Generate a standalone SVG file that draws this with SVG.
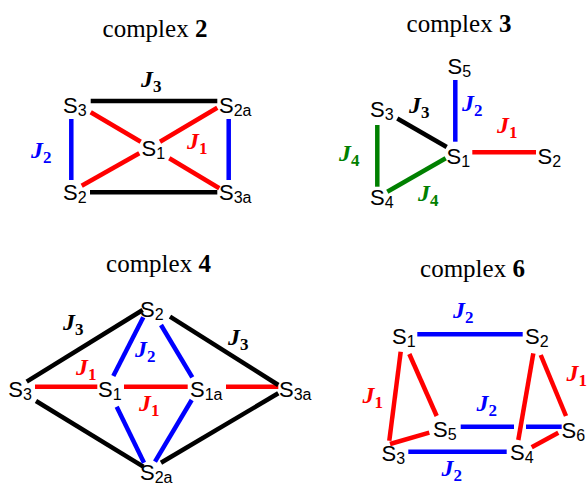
<svg xmlns="http://www.w3.org/2000/svg" width="588" height="485" viewBox="0 0 588 485">
<style>
.bg{fill:#fff}
.t{font-family:"Liberation Serif",serif;font-size:25px;fill:#000}
.t .b{font-weight:bold}
.s{font-family:"Liberation Sans",Arial,sans-serif;font-size:22px;fill:#000}
.s .sub{font-size:16px}
.j{font-family:"Liberation Serif",serif;font-size:24px;font-weight:bold;font-style:italic}
.j .sub{font-size:17px;font-style:normal}
.red{fill:#ff0000}.blue{fill:#0000ff}.green{fill:#008000}.blk{fill:#000}
line{stroke-width:4.5;stroke-linecap:butt}
.lr{stroke:#ff0000}.lb{stroke:#0000ff}.lg{stroke:#008000}.lk{stroke:#000}
</style>
<rect class="bg" x="0" y="0" width="588" height="485"/>

<!-- complex 2 -->
<g id="complex2">
<text class="t" x="155" y="37" text-anchor="middle">complex <tspan class="b">2</tspan></text>
<g id="c2-connectors">
<line class="lk" x1="90.7" y1="101" x2="217.3" y2="101"/>
<line class="lk" x1="90" y1="192.3" x2="217.3" y2="192.3"/>
<line class="lb" x1="71.3" y1="119" x2="71.3" y2="180"/>
<line class="lb" x1="228.7" y1="119" x2="228.7" y2="180"/>
<line class="lr" x1="90.7" y1="112.3" x2="140.7" y2="141.7"/>
<line class="lr" x1="160" y1="141.7" x2="217.3" y2="107.7"/>
<line class="lr" x1="81.7" y1="185.7" x2="139.3" y2="153.3"/>
<line class="lr" x1="169.3" y1="158.3" x2="219.3" y2="188.3"/>
</g>
<g id="c2-S3"><text class="s" x="63" y="113">S<tspan class="sub" dy="3">3</tspan></text></g>
<g id="c2-S2a"><text class="s" x="219" y="113">S<tspan class="sub" dy="3">2a</tspan></text></g>
<g id="c2-S1"><text class="s" x="141.5" y="156">S<tspan class="sub" dy="3">1</tspan></text></g>
<g id="c2-S2"><text class="s" x="63" y="200">S<tspan class="sub" dy="3">2</tspan></text></g>
<g id="c2-S3a"><text class="s" x="219" y="200">S<tspan class="sub" dy="3">3a</tspan></text></g>
<text class="j blk" x="141" y="87">J<tspan class="sub" dy="5">3</tspan></text>
<text class="j blue" x="31" y="158">J<tspan class="sub" dy="5">2</tspan></text>
<text class="j red" x="187" y="149">J<tspan class="sub" dy="5">1</tspan></text>
</g>

<!-- complex 3 -->
<g id="complex3">
<text class="t" x="459" y="31.5" text-anchor="middle">complex <tspan class="b">3</tspan></text>
<g id="c3-connectors">
<line class="lb" x1="455.3" y1="80" x2="455.3" y2="141.7"/>
<line class="lk" x1="397.3" y1="118.5" x2="446.7" y2="147"/>
<line class="lr" x1="472.3" y1="152.3" x2="536" y2="152.3"/>
<line class="lg" x1="377.3" y1="125" x2="377.3" y2="186.7"/>
<line class="lg" x1="387.3" y1="191.7" x2="445.7" y2="158.3"/>
</g>
<g id="c3-S5"><text class="s" x="447.5" y="74">S<tspan class="sub" dy="3">5</tspan></text></g>
<g id="c3-S3"><text class="s" x="370" y="117">S<tspan class="sub" dy="3">3</tspan></text></g>
<g id="c3-S1"><text class="s" x="446.5" y="164">S<tspan class="sub" dy="3">1</tspan></text></g>
<g id="c3-S2"><text class="s" x="537.5" y="164">S<tspan class="sub" dy="3">2</tspan></text></g>
<g id="c3-S4"><text class="s" x="370" y="205">S<tspan class="sub" dy="3">4</tspan></text></g>
<text class="j blue" x="462" y="111">J<tspan class="sub" dy="5">2</tspan></text>
<text class="j blk" x="409" y="113">J<tspan class="sub" dy="5">3</tspan></text>
<text class="j red" x="497" y="133">J<tspan class="sub" dy="5">1</tspan></text>
<text class="j green" x="339" y="161">J<tspan class="sub" dy="5">4</tspan></text>
<text class="j green" x="418" y="201">J<tspan class="sub" dy="5">4</tspan></text>
</g>

<!-- complex 4 -->
<g id="complex4">
<text class="t" x="158.5" y="271.5" text-anchor="middle">complex <tspan class="b">4</tspan></text>
<g id="c4-connectors">
<line class="lr" x1="35" y1="386.7" x2="97.3" y2="386.7"/>
<line class="lr" x1="124" y1="386.7" x2="187.7" y2="386.7"/>
<line class="lr" x1="226" y1="386.7" x2="278.3" y2="386.7"/>
<line class="lk" x1="26.7" y1="381.7" x2="142.7" y2="310"/>
<line class="lk" x1="170" y1="316.7" x2="278.3" y2="385"/>
<line class="lk" x1="36" y1="401" x2="143.3" y2="466.7"/>
<line class="lk" x1="278.3" y1="393.3" x2="161" y2="462.7"/>
<line class="lb" x1="143.3" y1="317.3" x2="113.3" y2="376"/>
<line class="lb" x1="161" y1="325" x2="192.3" y2="377.3"/>
<line class="lb" x1="116.7" y1="406.7" x2="144" y2="462.7"/>
<line class="lb" x1="191.7" y1="400" x2="155" y2="461.7"/>
</g>
<g id="c4-S2"><text class="s" x="140" y="317">S<tspan class="sub" dy="3">2</tspan></text></g>
<g id="c4-S3"><text class="s" x="8.3" y="397">S<tspan class="sub" dy="3">3</tspan></text></g>
<g id="c4-S1"><text class="s" x="98" y="397">S<tspan class="sub" dy="3">1</tspan></text></g>
<g id="c4-S1a"><text class="s" x="190" y="397">S<tspan class="sub" dy="3">1a</tspan></text></g>
<g id="c4-S3a"><text class="s" x="279" y="397">S<tspan class="sub" dy="3">3a</tspan></text></g>
<g id="c4-S2a"><text class="s" x="140" y="480">S<tspan class="sub" dy="3">2a</tspan></text></g>
<text class="j blk" x="63" y="330">J<tspan class="sub" dy="5">3</tspan></text>
<text class="j blk" x="228" y="345">J<tspan class="sub" dy="5">3</tspan></text>
<text class="j blue" x="135" y="357">J<tspan class="sub" dy="5">2</tspan></text>
<text class="j red" x="76" y="375">J<tspan class="sub" dy="5">1</tspan></text>
<text class="j red" x="139" y="411">J<tspan class="sub" dy="5">1</tspan></text>
</g>

<!-- complex 6 -->
<g id="complex6">
<text class="t" x="472.5" y="276.5" text-anchor="middle">complex <tspan class="b">6</tspan></text>
<g id="c6-connectors">
<line class="lb" x1="417.3" y1="334.3" x2="522.7" y2="334.3"/>
<line class="lr" x1="400.7" y1="351.7" x2="389.3" y2="440.7"/>
<line class="lr" x1="409.3" y1="354" x2="436.7" y2="416"/>
<line class="lr" x1="533.3" y1="353.3" x2="518.3" y2="440"/>
<line class="lr" x1="540.7" y1="355" x2="566" y2="416"/>
<line class="lb" x1="460.7" y1="426.7" x2="514" y2="426.7"/>
<line class="lb" x1="526" y1="426.7" x2="561.7" y2="426.7"/>
<line class="lr" x1="390" y1="444" x2="429.3" y2="432.7"/>
<line class="lr" x1="531.7" y1="447.3" x2="558.3" y2="432.7"/>
<line class="lb" x1="408.3" y1="451.7" x2="506.7" y2="451.7"/>
</g>
<g id="c6-S1"><text class="s" x="392" y="344">S<tspan class="sub" dy="3">1</tspan></text></g>
<g id="c6-S2"><text class="s" x="525" y="344">S<tspan class="sub" dy="3">2</tspan></text></g>
<g id="c6-S5"><text class="s" x="433" y="437">S<tspan class="sub" dy="3">5</tspan></text></g>
<g id="c6-S6"><text class="s" x="561.5" y="438">S<tspan class="sub" dy="3">6</tspan></text></g>
<g id="c6-S3"><text class="s" x="381.5" y="461">S<tspan class="sub" dy="3">3</tspan></text></g>
<g id="c6-S4"><text class="s" x="510" y="460">S<tspan class="sub" dy="3">4</tspan></text></g>
<text class="j blue" x="453" y="318">J<tspan class="sub" dy="5">2</tspan></text>
<text class="j red" x="362.5" y="403">J<tspan class="sub" dy="5">1</tspan></text>
<text class="j red" x="566.5" y="381">J<tspan class="sub" dy="5">1</tspan></text>
<text class="j blue" x="476.5" y="411">J<tspan class="sub" dy="5">2</tspan></text>
<text class="j blue" x="441.5" y="476">J<tspan class="sub" dy="5">2</tspan></text>
</g>
</svg>
